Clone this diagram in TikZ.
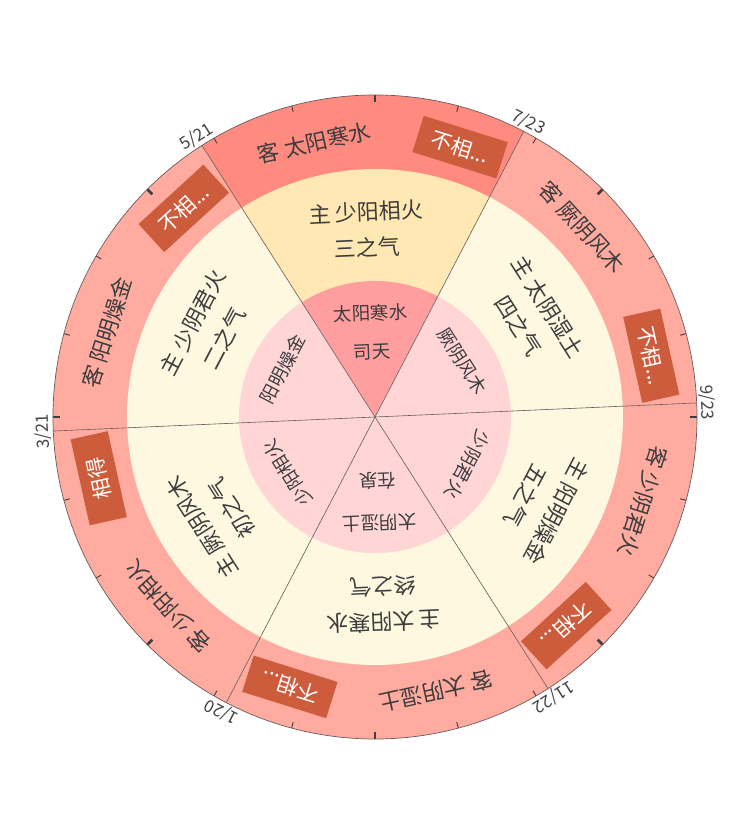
\documentclass[tikz,border=0pt]{standalone}
\usepackage{fontspec}
\setmainfont{Noto Sans CJK SC}
\usepackage{xcolor}
\usetikzlibrary{positioning}

\definecolor{kehot}{HTML}{FF8A80}
\definecolor{keoff}{HTML}{FFABA0}
\definecolor{zhuhot}{HTML}{FFE8B3}
\definecolor{zhuoff}{HTML}{FFF8E1}
\definecolor{sitian}{HTML}{FF9E9E}
\definecolor{innoff}{HTML}{FFD5D5}
\definecolor{badgered}{HTML}{CD5C3C}
\definecolor{ink}{HTML}{3D3D3D}
\definecolor{rim}{HTML}{6B5A5A}
\definecolor{dategray}{HTML}{444444}

\begin{document}
\begin{tikzpicture}[
  x=1pt, y=1pt,
  ketext/.style={font=\fontsize{22}{26}\selectfont, text=ink, inner sep=0pt},
  zhutext/.style={font=\fontsize{22}{26}\selectfont, text=ink, inner sep=0pt},
  intext/.style={font=\fontsize{18.5}{22}\selectfont, text=ink, inner sep=0pt},
  badge/.style={
    rectangle, fill=badgered, text=white, inner sep=0pt,
    minimum width=88pt, minimum height=38pt,
    font=\fontsize{21}{24}\selectfont
  },
  datelabel/.style={font=\fontsize{17}{20}\selectfont, text=dategray, inner sep=1.5pt, anchor=south},
  divider/.style={draw=rim, line width=0.6pt},
  majortick/.style={draw=ink, line width=2.6pt},
  minortick/.style={draw=ink, line width=0.9pt}
]
\useasboundingbox (-375,-416) rectangle (375,417);
\coordinate (O) at (0,0);

% Rings: outer (ke), middle (zhu), inner
\foreach \a/\kc/\zc/\ic in {92.5/kehot/zhuhot/sitian, 152.5/keoff/zhuoff/innoff,
    212.5/keoff/zhuoff/innoff, 272.5/keoff/zhuoff/innoff,
    332.5/keoff/zhuoff/innoff, 32.5/keoff/zhuoff/innoff} {
  \fill[\kc] (O) -- (\a-30:322) arc[start angle=\a-30, end angle=\a+30, radius=322] -- cycle;
  \fill[\zc] (O) -- (\a-30:248) arc[start angle=\a-30, end angle=\a+30, radius=248] -- cycle;
  \fill[\ic] (O) -- (\a-30:136) arc[start angle=\a-30, end angle=\a+30, radius=136] -- cycle;
}

% Sector dividers and dates
\foreach \b/\d [count=\i] in {2.5/{9/23}, 62.5/{7/23}, 122.5/{5/21}, 182.5/{3/21}, 242.5/{1/20}, 302.5/{11/22}} {
  \coordinate (rim\i) at (\b:322);
  \draw[divider] (O) -- (rim\i);
  \node[datelabel, rotate=\b-90] (date\i) at (rim\i) {\d};
}

% Ticks on the rim
\foreach \t in {0,45,...,315}
  \draw[majortick] (\t:322) -- (\t:315);
\foreach \t in {15,30,60,75,105,120,150,165,195,210,240,255,285,300,330,345}
  \draw[minortick] (\t:322) -- (\t:316);
\draw[draw=rim, line width=0.7pt] (O) circle[radius=322];

% Sector 1: san zhi qi (top)
\node[ketext, rotate=12.5] (ke1) at (102.5:281) {客 太阳寒水};
\node[badge, rotate=-17.5] (bd1) at (72.5:283) {不相...};
\node[zhutext, rotate=2.5] (zhu1) at (92.5:205) {主 少阳相火};
\node[zhutext, rotate=2.5] (qi1) at (92.5:170) {三之气};
\node[intext, rotate=2.5] (in1) at (92.5:104) {太阳寒水};
\node[intext, rotate=2.5] (sitian) at (92.5:65) {司天};

% Sector 2: er zhi qi
\node[ketext, rotate=72.5] (ke2) at (162.5:281) {客 阳明燥金};
\node[badge, rotate=42.5] (bd2) at (132.5:283) {不相...};
\node[zhutext, rotate=62.5] (zhu2) at (152.5:205) {主 少阴君火};
\node[zhutext, rotate=62.5] (qi2) at (152.5:170) {二之气};
\node[intext, rotate=62.5] (in2) at (152.5:104) {阳明燥金};

% Sector 3: chu zhi qi
\node[ketext, rotate=132.5] (ke3) at (222.5:281) {客 少阳相火};
\node[badge, rotate=102.5] (bd3) at (192.5:283) {相得};
\node[zhutext, rotate=122.5] (zhu3) at (212.5:205) {主 厥阴风木};
\node[zhutext, rotate=122.5] (qi3) at (212.5:170) {初之气};
\node[intext, rotate=122.5] (in3) at (212.5:104) {少阳相火};

% Sector 4: zhong zhi qi (bottom)
\node[ketext, rotate=192.5] (ke4) at (282.5:281) {客 太阴湿土};
\node[badge, rotate=162.5] (bd4) at (252.5:283) {不相...};
\node[zhutext, rotate=182.5] (zhu4) at (272.5:205) {主 太阳寒水};
\node[zhutext, rotate=182.5] (qi4) at (272.5:170) {终之气};
\node[intext, rotate=182.5] (in4) at (272.5:106) {太阴湿土};
\node[intext, rotate=182.5] (zaiquan) at (272.5:64) {在泉};

% Sector 5: wu zhi qi
\node[ketext, rotate=252.5] (ke5) at (342.5:281) {客 少阴君火};
\node[badge, rotate=222.5] (bd5) at (312.5:283) {不相...};
\node[zhutext, rotate=242.5] (zhu5) at (332.5:205) {主 阳明燥金};
\node[zhutext, rotate=242.5] (qi5) at (332.5:170) {五之气};
\node[intext, rotate=242.5] (in5) at (332.5:104) {少阴君火};

% Sector 6: si zhi qi
\node[ketext, rotate=-47.5] (ke6) at (42.5:281) {客 厥阴风木};
\node[badge, rotate=-77.5] (bd6) at (12.5:283) {不相...};
\node[zhutext, rotate=-57.5] (zhu6) at (32.5:205) {主 太阴湿土};
\node[zhutext, rotate=-57.5] (qi6) at (32.5:170) {四之气};
\node[intext, rotate=-57.5] (in6) at (32.5:104) {厥阴风木};

\end{tikzpicture}
\end{document}
